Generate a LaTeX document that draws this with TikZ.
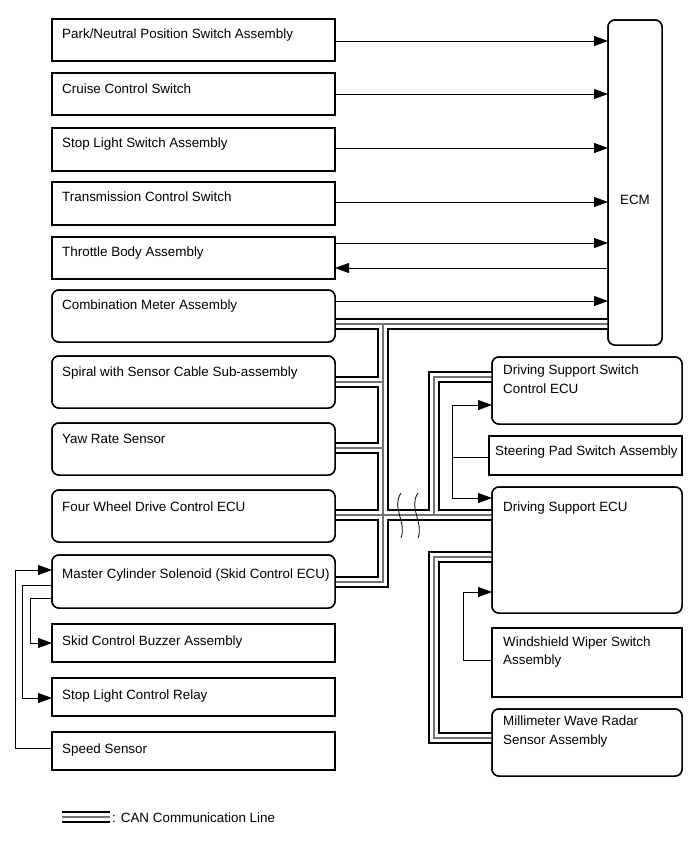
\documentclass[tikz,border=0pt]{standalone}
\usepackage{fontspec}
\setmainfont{Liberation Sans}
\usetikzlibrary{arrows.meta}
\begin{document}
\begin{tikzpicture}[x=1pt,y=-1pt,
  sq/.style={draw, line width=1.5pt, fill=white, anchor=north west, inner sep=0pt, outer sep=0pt},
  rd/.style={sq, rounded corners=7pt},
  lw/.style={minimum width=283pt},
  rw/.style={minimum width=190pt},
  lbl/.style={anchor=base west, inner sep=0pt, font=\fontsize{13.4}{16}\selectfont},
  sig/.style={line width=0.9pt},
  arr/.style={sig, -{Triangle[length=14pt,width=10pt]}},
  brk/.style={line width=0.8pt}
]
\useasboundingbox[fill=white] (0,0) rectangle (691,855);

% coordinates for the CAN network
\coordinate (vb) at (383,324);
\coordinate (vbb) at (383,582);
\coordinate (x1) at (383,515);
\coordinate (ub) at (434,515);
\coordinate (ut) at (434,377);
\coordinate (lt) at (434,557);
\coordinate (lb) at (434,738);
\coordinate (legA) at (62,817);
\coordinate (legB) at (110,817);

% boxes (placeholders for anchors)
\node[sq, lw, minimum height=42pt] (park) at (52,19) {};
\node[sq, lw, minimum height=42pt] (cruise) at (52,73) {};
\node[sq, lw, minimum height=43pt] (stop) at (52,128) {};
\node[sq, lw, minimum height=43pt] (trans) at (52,182) {};
\node[sq, lw, minimum height=42pt] (throttle) at (52,237) {};
\node[rd, lw, minimum height=52pt] (comb) at (52,290) {};
\node[rd, lw, minimum height=52pt] (spiral) at (52,356) {};
\node[rd, lw, minimum height=52pt] (yaw) at (52,423) {};
\node[rd, lw, minimum height=52pt] (four) at (52,490) {};
\node[rd, lw, minimum height=53pt] (master) at (52,555) {};
\node[sq, lw, minimum height=38pt] (skid) at (52,624) {};
\node[sq, lw, minimum height=38pt] (slight) at (52,678) {};
\node[sq, lw, minimum height=38pt] (speed) at (52,732) {};
\node[rd, minimum width=54pt, minimum height=325pt] (ecm) at (608,20) {};
\node[rd, rw, minimum height=67pt] (dssw) at (492,357) {};
\node[sq, minimum width=193pt, minimum height=39pt] (steer) at (489,436) {};
\node[rd, rw, minimum height=126pt] (dsecu) at (492,487) {};
\node[sq, rw, minimum height=69pt] (wiper) at (492,628) {};
\node[rd, rw, minimum height=67pt] (mmw) at (492,709) {};

% CAN communication lines (three layers)
\foreach \lwd/\lcol in {12/black, 8/white, 1.1/black!55} {
  \draw[line width=\lwd pt, draw=\lcol]
    (comb.east |- vb) -- (ecm.west |- vb);
  \draw[line width=\lwd pt, draw=\lcol]
    (vb) -- (vbb) -- (master.east |- vbb);
  \draw[line width=\lwd pt, draw=\lcol]
    (spiral.east |- 0,382) -- (383,382);
  \draw[line width=\lwd pt, draw=\lcol]
    (yaw.east |- 0,448) -- (383,448);
  \draw[line width=\lwd pt, draw=\lcol]
    (four.east |- x1) -- (dsecu.west |- x1);
  \draw[line width=\lwd pt, draw=\lcol]
    (ub) -- (ut) -- (dssw.west |- ut);
  \draw[line width=\lwd pt, draw=\lcol]
    (dsecu.west |- lt) -- (lt) -- (lb) -- (mmw.west |- lb);
  \draw[line width=\lwd pt, draw=\lcol]
    (legA) -- (legB);
}

% redraw boxes on top
\foreach \b in {park, cruise, stop, trans, throttle, skid, slight, speed, steer, wiper} {
  \draw[line width=1.5pt, fill=white] (\b.north west) rectangle (\b.south east);
}
\foreach \b in {comb, spiral, yaw, four, master, ecm, dssw, dsecu, mmw} {
  \draw[line width=1.5pt, fill=white, rounded corners=7pt] (\b.north west) rectangle (\b.south east);
}

% break marks
\draw[brk] (401,493) .. controls (391,508) and (407,522) .. (401,538);
\draw[brk] (418,493) .. controls (408,508) and (424,522) .. (418,538);

% labels
\node[lbl] (tpark) at (62,38) {Park/Neutral Position Switch Assembly};
\node[lbl] (tcruise) at (62,93) {Cruise Control Switch};
\node[lbl] (tstop) at (62,147) {Stop Light Switch Assembly};
\node[lbl] (ttrans) at (62,201) {Transmission Control Switch};
\node[lbl] (tthrottle) at (62,256) {Throttle Body Assembly};
\node[lbl] (tcomb) at (62,309) {Combination Meter Assembly};
\node[lbl] (tspiral) at (62,376) {Spiral with Sensor Cable Sub-assembly};
\node[lbl] (tyaw) at (62,443) {Yaw Rate Sensor};
\node[lbl] (tfour) at (62,511) {Four Wheel Drive Control ECU};
\node[lbl] (tmaster) at (62,578) {Master Cylinder Solenoid (Skid Control ECU)};
\node[lbl] (tskid) at (62,645) {Skid Control Buzzer Assembly};
\node[lbl] (tslight) at (62,699) {Stop Light Control Relay};
\node[lbl] (tspeed) at (62,753) {Speed Sensor};
\node[font=\fontsize{13.4}{16}\selectfont, inner sep=0pt] (tecm) at (635,200) {ECM};
\node[lbl] (tdssw1) at (503,374) {Driving Support Switch};
\node[lbl] (tdssw2) at (503,393) {Control ECU};
\node[lbl] (tsteer) at (495,455) {Steering Pad Switch Assembly};
\node[lbl] (tdsecu) at (503,511) {Driving Support ECU};
\node[lbl] (twiper1) at (503,646) {Windshield Wiper Switch};
\node[lbl] (twiper2) at (503,664) {Assembly};
\node[lbl] (tmmw1) at (503,725) {Millimeter Wave Radar};
\node[lbl] (tmmw2) at (503,744) {Sensor Assembly};
\node[lbl] (tleg) at (112,822) {: CAN Communication Line};

% signal lines to ECM
\draw[arr] (park.east |- 0,41) -- (ecm.west |- 0,41);
\draw[arr] (cruise.east |- 0,94) -- (ecm.west |- 0,94);
\draw[arr] (stop.east |- 0,148) -- (ecm.west |- 0,148);
\draw[arr] (trans.east |- 0,202) -- (ecm.west |- 0,202);
\draw[arr] (throttle.east |- 0,243) -- (ecm.west |- 0,243);
\draw[arr] (ecm.west |- 0,268) -- (throttle.east |- 0,268);
\draw[arr] (comb.east |- 0,301) -- (ecm.west |- 0,301);

% left side signal lines
\draw[arr] (speed.west |- 0,748) -- (15,748) -- (15,570) -- (master.west |- 0,570);
\draw[arr] (master.west |- 0,598) -- (30,598) -- (30,643) -- (skid.west |- 0,643);
\draw[arr] (master.west |- 0,585) -- (22,585) -- (22,698) -- (slight.west |- 0,698);

% right side signal lines
\coordinate (sj) at (452,457);
\draw[sig] (steer.west |- sj) -- (sj);
\draw[arr] (452,405) -- (dssw.west |- 0,405);
\draw[arr] (452,405) -- (452,498) -- (dsecu.west |- 0,498);
\draw[arr] (wiper.west |- 0,660) -- (463,660) -- (463,592) -- (dsecu.west |- 0,592);
\end{tikzpicture}
\end{document}
